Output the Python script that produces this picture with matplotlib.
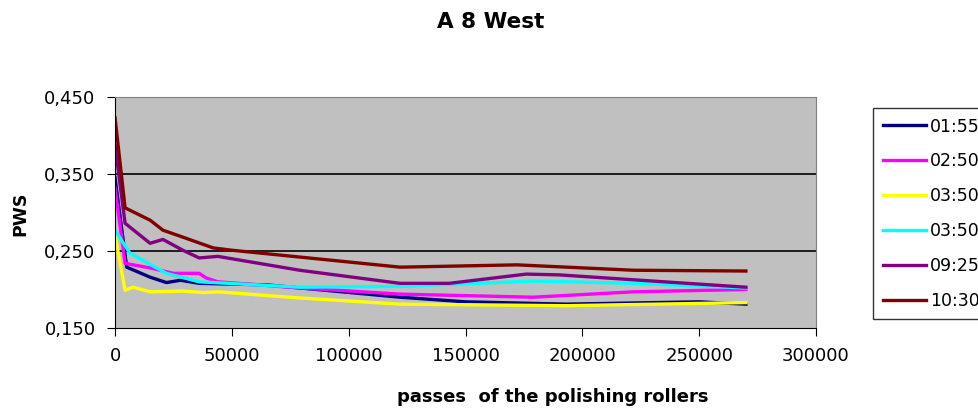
import matplotlib.pyplot as plt
from matplotlib.ticker import FuncFormatter

plt.rcParams['font.family'] = ['DejaVu Sans']

# passes of the polishing rollers vs PWS, one series per time
x_0155 = [0, 5000, 15000, 22000, 28000, 36000, 65000, 122000, 150000, 193000, 250000, 270000]
y_0155 = [0.345, 0.229, 0.216, 0.209, 0.212, 0.208, 0.206, 0.190, 0.184, 0.181, 0.184, 0.181]

x_0250 = [0, 4300, 15000, 25000, 36000, 39000, 44000, 79000, 122000, 179000, 222000, 270000]
y_0250 = [0.332, 0.234, 0.228, 0.221, 0.221, 0.215, 0.210, 0.202, 0.194, 0.190, 0.197, 0.200]

x_0350a = [0, 4300, 7700, 15000, 29000, 38000, 44000, 79000, 122000, 193000, 270000]
y_0350a = [0.271, 0.199, 0.203, 0.197, 0.198, 0.196, 0.197, 0.189, 0.181, 0.179, 0.183]

x_0350b = [0, 6400, 22000, 36000, 79000, 122000, 179000, 222000, 270000]
y_0350b = [0.277, 0.247, 0.221, 0.210, 0.203, 0.204, 0.211, 0.208, 0.202]

x_0925 = [0, 4300, 15000, 20500, 29000, 36000, 44000, 79000, 122000, 143000, 176000, 190000, 270000]
y_0925 = [0.388, 0.286, 0.260, 0.265, 0.251, 0.241, 0.243, 0.225, 0.208, 0.208, 0.220, 0.219, 0.203]

x_1030 = [0, 4300, 15000, 20500, 29000, 42000, 50000, 122000, 172000, 222000, 270000]
y_1030 = [0.423, 0.306, 0.290, 0.277, 0.268, 0.254, 0.251, 0.229, 0.232, 0.225, 0.224]

series = [
    (x_0155, y_0155, '#000080', '01:55'),
    (x_0250, y_0250, '#ff00ff', '02:50'),
    (x_0350a, y_0350a, '#ffff00', '03:50'),
    (x_0350b, y_0350b, '#00ffff', '03:50'),
    (x_0925, y_0925, '#800080', '09:25'),
    (x_1030, y_1030, '#800000', '10:30'),
]

fig = plt.figure(figsize=(9.79, 4.09), dpi=100)
ax = fig.add_axes([0.1175, 0.198, 0.716, 0.565])
ax.set_facecolor('#c0c0c0')

for y in [0.25, 0.35]:
    ax.axhline(y, color='black', lw=1.2, zorder=1)

for xs, ys, c, lab in series:
    ax.plot(xs, ys, color=c, lw=2.4, label=lab, zorder=2)

ax.set_xlim(0, 300000)
ax.set_ylim(0.15, 0.45)
ax.set_xticks([0, 50000, 100000, 150000, 200000, 250000, 300000])
ax.set_yticks([0.15, 0.25, 0.35, 0.45])
ax.yaxis.set_major_formatter(FuncFormatter(lambda v, p: f"{v:.3f}".replace('.', ',')))
ax.tick_params(axis='both', direction='out', length=6, labelsize=13, colors='black')
ax.tick_params(axis='x', pad=8)
ax.tick_params(axis='y', pad=8)

ax.spines['top'].set_color('#808080')
ax.spines['right'].set_color('#808080')
ax.spines['left'].set_color('black')
ax.spines['bottom'].set_color('black')

# titles placed in figure coords to match the source layout
fig.text(0.5015, 0.946, 'A 8 West', ha='center', va='center', fontsize=15.5, fontweight='bold')
fig.text(0.565, 0.029, 'passes  of the polishing rollers', ha='center', va='center',
         fontsize=13, fontweight='bold')
fig.text(0.021, 0.477, 'PWS', ha='center', va='center', rotation=90,
         fontsize=12.5, fontweight='bold')

leg = ax.legend(loc='upper left', bbox_to_anchor=(873 / 979, 1 - 108 / 409),
                bbox_transform=fig.transFigure, frameon=True, fancybox=False,
                edgecolor='black', fontsize=12.5, handlelength=2.5, handletextpad=0.25,
                labelspacing=0.97, borderpad=0.55, borderaxespad=0)
leg.get_frame().set_linewidth(1.0)

fig.savefig('out.png', dpi=100)
